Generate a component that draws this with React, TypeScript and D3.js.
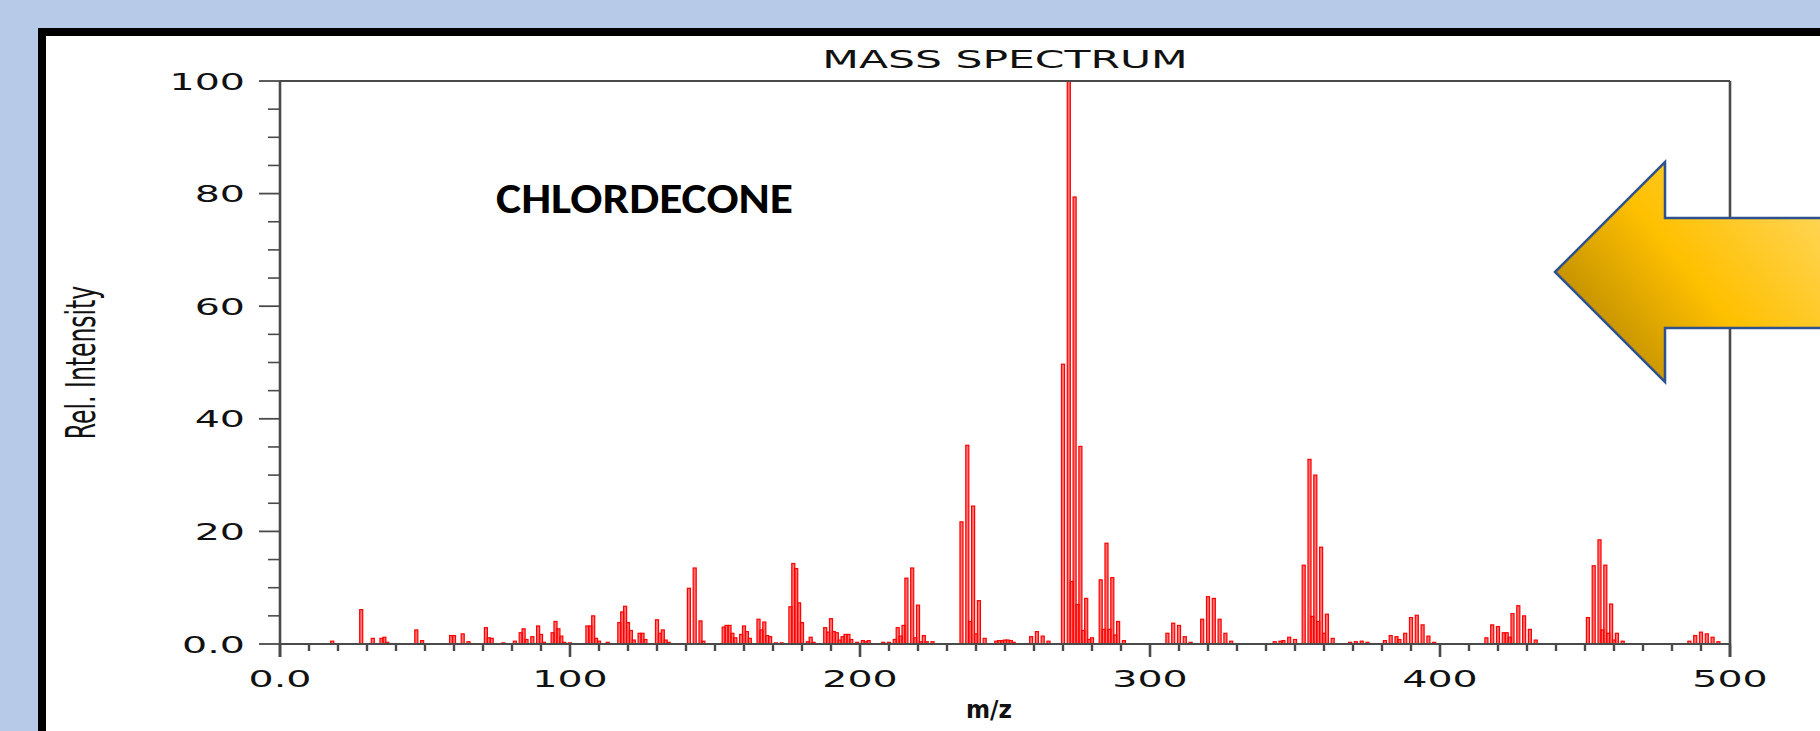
import React from 'react';
import * as d3 from 'd3';

// m/z positions and relative intensities
const mz = [
  18, 28, 32, 35, 36, 37, 47, 49, 59, 60, 63, 65, 71, 72, 73, 77, 81, 83, 84, 85, 87, 89, 90, 91,
  94, 95, 96, 97, 98, 100, 106, 107, 108, 109, 110, 113, 117, 118, 119, 120, 121, 122, 124, 125, 126,
  130, 131, 132, 133, 134, 141, 143, 145, 146, 153, 154, 155, 156, 157, 159, 160, 161, 162, 165, 166,
  167, 168, 169, 171, 173, 176, 177, 178, 179, 180, 182, 183, 184, 188, 189, 190, 191, 192, 193, 194,
  195, 196, 197, 199, 201, 202, 203, 208, 210, 212, 213, 214, 215, 216, 218, 219, 220, 221, 222, 223,
  225, 235, 237, 238, 239, 240, 241, 243, 247, 248, 249, 250, 251, 252, 253, 259, 261, 263, 265, 270,
  272, 273, 274, 275, 276, 277, 278, 279, 280, 283, 284, 285, 286, 287, 288, 289, 291, 306, 308, 310,
  312, 314, 318, 320, 322, 324, 326, 328, 343, 345, 346, 348, 350, 353, 355, 356, 357, 358, 359, 360,
  361, 363, 369, 371, 373, 375, 381, 383, 385, 386, 388, 390, 392, 394, 396, 398, 416, 418, 420, 422,
  423, 424, 425, 427, 429, 431, 433, 451, 453, 455, 456, 457, 458, 459, 460, 461, 463, 486, 488, 490,
  492, 494, 496,
];
const intensity = [
  0.5, 6.1, 1.0, 1.0, 1.2, 0.3, 2.5, 0.6, 1.5, 1.5, 1.8, 0.4, 2.9, 1.1, 1.0, 0.2, 0.5, 2.0, 2.7, 0.8, 1.3, 3.2, 1.7, 0.3,
  2.0, 4.0, 2.7, 1.4, 0.3, 0.2, 3.2, 3.2, 5.0, 1.0, 0.5, 0.3, 3.8, 5.7, 6.7, 3.8, 2.4, 0.7, 1.9, 1.9, 0.8,
  4.3, 1.9, 2.5, 0.7, 0.3, 9.9, 13.5, 4.1, 0.5, 3.0, 3.3, 3.3, 1.9, 1.1, 1.7, 3.2, 2.2, 1.0, 4.4, 2.5,
  3.9, 1.5, 1.3, 0.2, 0.2, 6.6, 14.3, 13.4, 7.3, 3.8, 0.4, 1.2, 0.3, 2.9, 2.1, 4.5, 2.2, 2.0, 0.7, 1.3,
  1.7, 1.7, 0.8, 0.3, 0.6, 0.4, 0.6, 0.3, 0.3, 0.8, 2.9, 1.4, 3.3, 11.7, 13.5, 1.1, 6.9, 0.4, 1.5, 0.4,
  0.4, 21.7, 35.3, 4.0, 24.5, 1.8, 7.7, 1.0, 0.5, 0.6, 0.6, 0.7, 0.7, 0.6, 0.3, 1.3, 2.2, 1.4, 0.5, 49.7,
  100, 11.1, 79.4, 7.0, 35.1, 2.4, 8.1, 0.8, 1.1, 11.4, 2.6, 17.9, 2.6, 11.8, 1.6, 4.0, 0.6, 1.9, 3.7, 3.3,
  1.3, 0.3, 4.4, 8.4, 8.1, 4.4, 1.9, 0.5, 0.4, 0.5, 0.6, 1.2, 0.8, 14.0, 32.8, 4.9, 30.0, 4.0, 17.2, 1.9,
  5.3, 1.0, 0.3, 0.4, 0.5, 0.3, 0.6, 1.5, 1.3, 0.8, 1.9, 4.7, 5.1, 3.4, 1.4, 0.3, 1.1, 3.4, 3.1, 2.0,
  2.0, 1.2, 5.4, 6.8, 5.0, 2.6, 0.7, 4.7, 13.9, 18.5, 2.5, 14.0, 1.9, 7.1, 0.7, 1.9, 0.5, 0.5, 1.5, 2.1,
  1.8, 1.2, 0.4,
];

const xTicks = [0, 100, 200, 300, 400, 500];
const xTickLabels = ['0.0', '100', '200', '300', '400', '500'];
const yTicks = [0, 20, 40, 60, 80, 100];
const yTickLabels = ['0.0', '20', '40', '60', '80', '100'];

const title = 'MASS SPECTRUM';
const xLabel = 'm/z';
const yLabel = 'Rel. Intensity';
const compound = 'CHLORDECONE';

const W = 1820;
const H = 731;
// the original spectrum image was stretched sideways in the slide
const SX = 1.72;
const chartFont = '"DejaVu Sans", Verdana, sans-serif';
const axisColor = '#4a4a4a';

// slide arrow (page coordinates)
const arrowPoints: [number, number][] = [
  [1555, 272], [1665, 162], [1665, 218], [1840, 218], [1840, 328], [1665, 328], [1665, 382],
];

export default function App() {
  const x = d3.scaleLinear().domain([0, 500]).range([280, 1730]);
  const y = d3.scaleLinear().domain([0, 100]).range([644, 81]);
  const unit = x(1) - x(0);
  const barW = unit * 1.05;

  const minorX = d3.range(0, 501, 10).filter((v) => v % 100 !== 0);
  const minorY = d3.range(0, 101, 5).filter((v) => v % 20 !== 0);

  const bars = mz.map((m, i) => ({ m, v: intensity[i] }));

  return (
    <svg
      width={W}
      height={H}
      style={{ position: 'absolute', left: 0, top: 0, display: 'block' }}
    >
      <defs>
        <linearGradient id="gold" gradientUnits="userSpaceOnUse" x1={1560} y1={380} x2={1820} y2={165}>
          <stop offset="0" stopColor="#a37800" />
          <stop offset="0.5" stopColor="#ffc000" />
          <stop offset="1" stopColor="#ffd966" />
        </linearGradient>
      </defs>

      {/* slide background */}
      <rect x={0} y={0} width={W} height={H} fill="#b7cae8" />
      <rect x={42} y={32} width={2000} height={1000} fill="#ffffff" stroke="#000" strokeWidth={8} />

      {/* spectrum bars */}
      <g>
        {bars.map((b) => (
          <rect
            key={b.m}
            x={x(b.m) - barW / 2}
            y={y(b.v)}
            width={barW}
            height={y(0) - y(b.v)}
            fill="rgba(255,0,0,0.55)"
            stroke="#ff0000"
            strokeWidth={1.2}
          />
        ))}
      </g>

      {/* frame */}
      <line x1={x(0)} x2={x(500)} y1={y(100)} y2={y(100)} stroke={axisColor} strokeWidth={1.8} />
      <line x1={x(0)} x2={x(500)} y1={y(0)} y2={y(0)} stroke={axisColor} strokeWidth={2} />
      <line x1={x(0)} x2={x(0)} y1={y(100)} y2={y(0) + 13} stroke={axisColor} strokeWidth={2.6} />
      <line x1={x(500)} x2={x(500)} y1={y(100)} y2={y(0) + 13} stroke={axisColor} strokeWidth={2.6} />

      {/* x ticks */}
      {xTicks.map((t) => (
        <line key={'xM' + t} x1={x(t)} x2={x(t)} y1={y(0)} y2={y(0) + 13} stroke={axisColor} strokeWidth={2.6} />
      ))}
      {minorX.map((t) => (
        <line key={'xm' + t} x1={x(t)} x2={x(t)} y1={y(0)} y2={y(0) + 7} stroke={axisColor} strokeWidth={2.4} />
      ))}
      {/* y ticks */}
      {yTicks.map((t) => (
        <line key={'yM' + t} x1={x(0) - 21} x2={x(0)} y1={y(t)} y2={y(t)} stroke={axisColor} strokeWidth={1.8} />
      ))}
      {minorY.map((t) => (
        <line key={'ym' + t} x1={x(0) - 12} x2={x(0)} y1={y(t)} y2={y(t)} stroke={axisColor} strokeWidth={1.6} />
      ))}

      {/* tick labels */}
      <g fontFamily={chartFont} fontSize={23} fill="#111">
        {xTicks.map((t, i) => (
          <text key={'xl' + t} transform={`translate(${x(t)},${y(0) + 43}) scale(${SX},1)`} textAnchor="middle">
            {xTickLabels[i]}
          </text>
        ))}
        {yTicks.map((t, i) => (
          <text key={'yl' + t} transform={`translate(${x(0) - 35},${y(t) + 8.5}) scale(${SX},1)`} textAnchor="end">
            {yTickLabels[i]}
          </text>
        ))}
      </g>

      {/* titles */}
      <text
        transform={`translate(${(x(0) + x(500)) / 2},68) scale(${SX},1)`}
        textAnchor="middle"
        fontFamily={chartFont}
        fontSize={24.7}
        fill="#111"
      >
        {title}
      </text>
      <text
        transform={`translate(95,${(y(0) + y(100)) / 2}) scale(${SX},1) rotate(-90)`}
        textAnchor="middle"
        fontFamily={chartFont}
        fontSize={23.5}
        fill="#111"
      >
        {yLabel}
      </text>
      <text
        x={989}
        y={718}
        textAnchor="middle"
        fontFamily={chartFont}
        fontWeight="bold"
        fontSize={25}
        textLength={46}
        lengthAdjust="spacingAndGlyphs"
        fill="#111"
      >
        {xLabel}
      </text>

      {/* slide annotations */}
      <text
        x={496}
        y={213}
        fontFamily="Carlito, Lato, 'Open Sans', sans-serif"
        fontWeight="bold"
        fontSize={43}
        textLength={297}
        lengthAdjust="spacingAndGlyphs"
        fill="#000"
      >
        {compound}
      </text>
      <polygon
        points={arrowPoints.map((p) => p.join(',')).join(' ')}
        fill="url(#gold)"
        stroke="#2f528f"
        strokeWidth={2.5}
        strokeLinejoin="miter"
      />
    </svg>
  );
}
